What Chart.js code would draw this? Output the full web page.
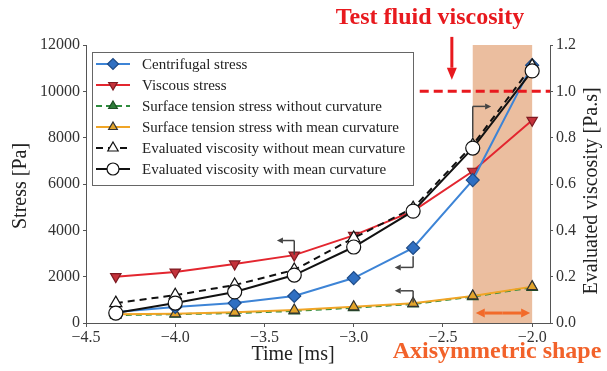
<!DOCTYPE html>
<html>
<head>
<meta charset="utf-8">
<script src="https://cdn.jsdelivr.net/npm/chart.js@4/dist/chart.umd.min.js"></script>
<style>
  body { margin: 0; background: #fff; }
</style>
</head>
<body>
<canvas id="grafico" width="607" height="371"></canvas>
<script>
// tiempo [ms] y valores de cada serie
const tiempo = [-4.333, -4.0, -3.667, -3.333, -3.0, -2.667, -2.333, -2.0]
const centrifugal = [470, 690, 860, 1165, 1940, 3240, 6170, 11130]
const viscous = [2000, 2200, 2550, 2930, 3780, 4830, 6550, 8750]
const tensionSinCurv = [340, 380, 430, 520, 660, 820, 1140, 1540]
const tensionConCurv = [380, 400, 460, 560, 700, 850, 1170, 1570]
const viscSinCurv = [0.086, 0.12, 0.164, 0.229, 0.367, 0.496, 0.768, 1.11]
const viscConCurv = [0.043, 0.086, 0.134, 0.207, 0.328, 0.483, 0.755, 1.088]

const xTicks = [-4.5, -4.0, -3.5, -3.0, -2.5, -2.0]
const stressTicks = [0, 2000, 4000, 6000, 8000, 10000, 12000]
const viscTicks = [0, 0.2, 0.4, 0.6, 0.8, 1.0, 1.2]

const testViscosity = 1.0
const shadeFrom = -2.333
const shadeTo = -2.0

const pts = (arr) => arr.map((v, i) => ({ x: tiempo[i], y: v }))
const serif = '"Liberation Serif", "DejaVu Serif", serif'
const fmtMinus = (v) => (v < 0 ? '\u2212' : '') + Math.abs(v).toFixed(1)

const datasets = [
    {
        label: 'Centrifugal stress', data: pts(centrifugal), yAxisID: 'y', order: 3,
        borderColor: '#3d84d6', backgroundColor: '#2f6fc2', pointBorderColor: '#1d4a86',
        pointStyle: 'rectRot', pointRadius: 6.5
    },
    {
        label: 'Viscous stress', data: pts(viscous), yAxisID: 'y', order: 4,
        borderColor: '#e3262f', backgroundColor: '#c4323b', pointBorderColor: '#7e1b22',
        pointStyle: 'triangle', pointRotation: 180, pointRadius: 6
    },
    {
        label: 'Surface tension stress without curvature', data: pts(tensionSinCurv), yAxisID: 'y', order: 6,
        borderColor: '#2f8c3e', backgroundColor: '#2f7d3a', pointBorderColor: '#1d4f24',
        borderDash: [6, 4], pointStyle: 'triangle', pointRadius: 6
    },
    {
        label: 'Surface tension stress with mean curvature', data: pts(tensionConCurv), yAxisID: 'y', order: 5,
        borderColor: '#f0a526', backgroundColor: '#e2a42c', pointBorderColor: '#333',
        pointStyle: 'triangle', pointRadius: 6
    },
    {
        label: 'Evaluated viscosity without mean curvature', data: pts(viscSinCurv), yAxisID: 'y2', order: 2,
        borderColor: '#111', backgroundColor: '#fff', pointBorderColor: '#111',
        borderDash: [7, 5], pointStyle: 'triangle', pointRadius: 7
    },
    {
        label: 'Evaluated viscosity with mean curvature', data: pts(viscConCurv), yAxisID: 'y2', order: 1,
        borderColor: '#111', backgroundColor: '#fff', pointBorderColor: '#111',
        pointStyle: 'circle', pointRadius: 7
    }
]
datasets.forEach((d) => {
    d.borderWidth = 2
    d.pointBackgroundColor = d.backgroundColor
    d.pointBorderWidth = 1.2
    d.tension = 0
    d.fill = false
})

// flechitas que indican a que eje corresponde cada curva
const brackets = [
    { axis: 'y', x: [-3.333, -3.333, -3.43], y: [2950, 3560, 3560] },
    { axis: 'y', x: [-2.667, -2.667, -2.77], y: [2880, 2400, 2400] },
    { axis: 'y', x: [-2.667, -2.667, -2.77], y: [880, 1390, 1390] },
    { axis: 'y2', x: [-2.333, -2.333, -2.23], y: [0.8, 0.935, 0.935] }
]

const arrow = (ctx, x1, y1, x2, y2, head, wide, color, lw) => {
    const ang = Math.atan2(y2 - y1, x2 - x1)
    const bx = x2 - head * Math.cos(ang)
    const by = y2 - head * Math.sin(ang)
    ctx.save()
    ctx.strokeStyle = color
    ctx.fillStyle = color
    ctx.lineWidth = lw
    ctx.beginPath()
    ctx.moveTo(x1, y1)
    ctx.lineTo(bx, by)
    ctx.stroke()
    ctx.beginPath()
    ctx.moveTo(x2, y2)
    ctx.lineTo(bx + wide / 2 * Math.sin(ang), by - wide / 2 * Math.cos(ang))
    ctx.lineTo(bx - wide / 2 * Math.sin(ang), by + wide / 2 * Math.cos(ang))
    ctx.closePath()
    ctx.fill()
    ctx.restore()
}

const extras = {
    id: 'extras',
    beforeDatasetsDraw(chart) {
        const { ctx, chartArea, scales } = chart
        const x1 = scales.x.getPixelForValue(shadeFrom)
        const x2 = scales.x.getPixelForValue(shadeTo)
        ctx.save()
        ctx.fillStyle = 'rgba(222,150,100,0.62)'
        ctx.fillRect(x1, chartArea.top, x2 - x1, chartArea.bottom - chartArea.top)
        ctx.restore()
    },
    afterDraw(chart) {
        const { ctx, chartArea, scales } = chart
        const sx = scales.x
        const s2 = scales.y2

        // viscosidad del fluido de prueba
        const yt = s2.getPixelForValue(testViscosity)
        ctx.save()
        ctx.strokeStyle = '#e8191e'
        ctx.lineWidth = 3
        ctx.setLineDash([9, 5])
        ctx.beginPath()
        ctx.moveTo(sx.getPixelForValue(-2.63), yt)
        ctx.lineTo(chartArea.right, yt)
        ctx.stroke()
        ctx.restore()
        const xa = sx.getPixelForValue(-2.45)
        arrow(ctx, xa, s2.getPixelForValue(1.235), xa, s2.getPixelForValue(1.05), 12, 10, '#e8191e', 3)

        ctx.save()
        ctx.font = 'bold 24px ' + serif
        ctx.fillStyle = '#e8191e'
        ctx.textAlign = 'center'
        ctx.textBaseline = 'middle'
        ctx.fillText('Test fluid viscosity', 430, 18)
        ctx.restore()

        // zona de forma axisimetrica
        const xs1 = sx.getPixelForValue(shadeFrom)
        const xs2 = sx.getPixelForValue(shadeTo)
        const ya = scales.y.getPixelForValue(430)
        arrow(ctx, (xs1 + xs2) / 2, ya, xs2 - 2, ya, 9, 9, '#f26a2a', 3)
        arrow(ctx, (xs1 + xs2) / 2, ya, xs1 + 3, ya, 9, 9, '#f26a2a', 3)
        ctx.save()
        ctx.font = 'bold 24px ' + serif
        ctx.fillStyle = '#f2622a'
        ctx.textAlign = 'center'
        ctx.textBaseline = 'middle'
        ctx.fillText('Axisymmetric shape', 497, 352)
        ctx.restore()

        // corchetes con flecha
        brackets.forEach((b) => {
            const sc = scales[b.axis]
            const p = b.x.map((v, i) => [sx.getPixelForValue(v), sc.getPixelForValue(b.y[i])])
            ctx.save()
            ctx.strokeStyle = '#444'
            ctx.lineWidth = 1.5
            ctx.beginPath()
            ctx.moveTo(p[0][0], p[0][1])
            ctx.lineTo(p[1][0], p[1][1])
            ctx.stroke()
            ctx.restore()
            arrow(ctx, p[1][0], p[1][1], p[2][0], p[2][1], 6, 6, '#444', 1.5)
        })

        // leyenda
        const lx = 92, ly = 52, lw = 321, lh = 133
        ctx.save()
        ctx.fillStyle = 'rgba(255,255,255,0.92)'
        ctx.fillRect(lx, ly, lw, lh)
        ctx.strokeStyle = '#666'
        ctx.lineWidth = 1
        ctx.strokeRect(lx + 0.5, ly + 0.5, lw, lh)
        ctx.font = '15px ' + serif
        ctx.textBaseline = 'middle'
        datasets.forEach((d, i) => {
            const y = ly + 12 + i * 21
            ctx.strokeStyle = d.borderColor
            ctx.lineWidth = 2
            ctx.setLineDash(d.borderDash || [])
            ctx.beginPath()
            ctx.moveTo(lx + 4, y)
            ctx.lineTo(lx + 38, y)
            ctx.stroke()
            ctx.setLineDash([])
            ctx.fillStyle = d.pointBackgroundColor
            ctx.strokeStyle = d.pointBorderColor
            ctx.lineWidth = 1.2
            Chart.helpers.drawPoint(ctx, {
                pointStyle: d.pointStyle, rotation: d.pointRotation || 0,
                radius: d.pointRadius - 1, borderWidth: 1.2
            }, lx + 21, y)
            ctx.fillStyle = '#222'
            ctx.fillText(d.label, lx + 50, y + 1)
        })
        ctx.restore()

        // titulos de los ejes
        ctx.save()
        ctx.font = '20px ' + serif
        ctx.fillStyle = '#222'
        ctx.textAlign = 'center'
        ctx.textBaseline = 'middle'
        ctx.fillText('Time [ms]', 293, 355)
        ctx.translate(21, 186)
        ctx.rotate(-Math.PI / 2)
        ctx.fillText('Stress [Pa]', 0, 0)
        ctx.restore()
        ctx.save()
        ctx.font = '20px ' + serif
        ctx.fillStyle = '#222'
        ctx.textAlign = 'center'
        ctx.textBaseline = 'middle'
        ctx.translate(592, 191)
        ctx.rotate(-Math.PI / 2)
        ctx.fillText('Evaluated viscosity [Pa.s]', 0, 0)
        ctx.restore()
    }
}

const tickFont = { family: serif, size: 16 }
const config = {
    type: 'line',
    data: { datasets },
    options: {
        responsive: false,
        animation: false,
        layout: { padding: { top: 45, left: 0, right: 0, bottom: 0 } },
        plugins: { legend: { display: false }, tooltip: { enabled: false } },
        scales: {
            x: {
                type: 'linear', min: -4.5, max: -1.9,
                afterBuildTicks: (s) => { s.ticks = xTicks.map((v) => ({ value: v })) },
                afterFit: (s) => { s.height = 48 },
                ticks: { font: tickFont, color: '#333', padding: 1, maxRotation: 0, callback: (v) => fmtMinus(v) },
                grid: { drawOnChartArea: false, tickLength: 4, color: '#555' },
                border: { color: '#555', width: 1 }
            },
            y: {
                position: 'left', min: 0, max: 12000,
                afterBuildTicks: (s) => { s.ticks = stressTicks.map((v) => ({ value: v })) },
                afterFit: (s) => { s.width = 86 },
                ticks: { font: tickFont, color: '#333', padding: 3, callback: (v) => String(v) },
                grid: { drawOnChartArea: false, tickLength: 3, color: '#555' },
                border: { color: '#555', width: 1 }
            },
            y2: {
                position: 'right', min: 0, max: 1.2,
                afterBuildTicks: (s) => { s.ticks = viscTicks.map((v) => ({ value: v })) },
                afterFit: (s) => { s.width = 57 },
                ticks: { font: tickFont, color: '#333', padding: 3, callback: (v) => v.toFixed(1) },
                grid: { drawOnChartArea: false, tickLength: 3, color: '#555' },
                border: { color: '#555', width: 1 }
            }
        }
    },
    plugins: [extras]
}

const chartDom = document.getElementById('grafico')
const chartjs = new Chart(chartDom, config)
</script>
</body>
</html>
